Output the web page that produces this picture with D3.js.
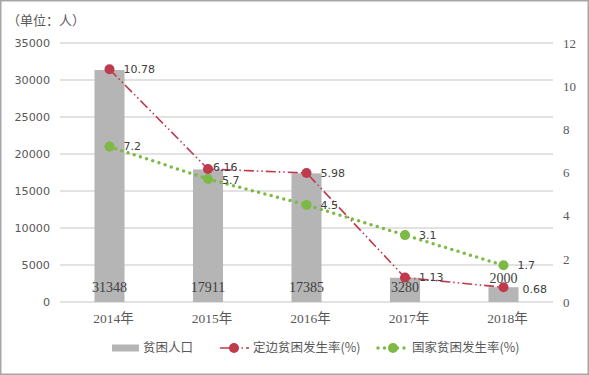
<!DOCTYPE html>
<html>
<head>
<meta charset="utf-8">
<script src="https://cdn.jsdelivr.net/npm/d3@7"></script>
<style>
  body { margin: 0; background: #fff; }
  svg { display: block; }
</style>
</head>
<body>
<div id="chart"></div>
<script>
// data
const years = ['2014年', '2015年', '2016年', '2017年', '2018年'];
const population = [31348, 17911, 17385, 3280, 2000];
const dingbianRate = [10.78, 6.16, 5.98, 1.13, 0.68];
const nationalRate = [7.2, 5.7, 4.5, 3.1, 1.7];
const leftTicks = [0, 5000, 10000, 15000, 20000, 25000, 30000, 35000];
const rightTicks = [0, 2, 4, 6, 8, 10, 12];
const seriesNames = ['贫困人口', '定边贫困发生率(%)', '国家贫困发生率(%)'];

const w = 589, h = 375;
const plotL = 60, plotR = 553, plotT = 43, plotB = 302;
const cjk = '"Noto Sans CJK SC", sans-serif';
const red = '#be3a4c', green = '#7dba45', barColor = '#b5b5b5', txt = '#595959';

const svg = d3.select('#chart').append('svg')
  .attr('width', w).attr('height', h);

// outer frame
svg.append('rect')
  .attr('x', 0.75).attr('y', 0.75).attr('width', w - 1.5).attr('height', h - 1.5)
  .attr('fill', '#fff').attr('stroke', '#a6a6a6').attr('stroke-width', 1.5);

svg.append('text')
  .attr('x', 7).attr('y', 25)
  .attr('font-family', cjk).attr('font-size', 13).attr('fill', txt)
  .text('（单位：人）');

const x = d3.scaleBand().domain(years).range([plotL, plotR]).paddingInner(0.695).paddingOuter(0.35);
const xc = d => x(d) + x.bandwidth() / 2;
const y = d3.scaleLinear().domain([0, 35000]).range([plotB, plotT]);
const y2 = d3.scaleLinear().domain([0, 12]).range([plotB, plotT]);

// gridlines
svg.append('g').selectAll('line').data(leftTicks).enter().append('line')
  .attr('x1', plotL).attr('x2', plotR)
  .attr('y1', d => y(d)).attr('y2', d => y(d))
  .attr('stroke', '#d9d9d9').attr('stroke-width', 1.3);

// left axis
const yAxis = d3.axisLeft(y).tickValues(leftTicks).tickSize(0).tickPadding(10).tickFormat(d3.format('d'));
const gy = svg.append('g').attr('transform', 'translate(' + plotL + ',0)').call(yAxis);
gy.select('.domain').remove();
gy.selectAll('text').attr('font-family', '"DejaVu Sans", sans-serif').attr('font-size', 11.2).attr('fill', txt);

// right axis
const yAxis2 = d3.axisRight(y2).tickValues(rightTicks).tickSize(0).tickPadding(10);
const gy2 = svg.append('g').attr('transform', 'translate(' + plotR + ',0)').call(yAxis2);
gy2.select('.domain').remove();
gy2.selectAll('text').attr('font-family', '"Liberation Serif", serif').attr('font-size', 13).attr('fill', txt);

// bottom axis
const xAxis = d3.axisBottom(x).tickSize(0).tickPadding(11);
const gx = svg.append('g').attr('transform', 'translate(0,' + plotB + ')').call(xAxis);
gx.select('.domain').remove();
gx.selectAll('text').attr('font-family', '"Liberation Serif", ' + cjk).attr('font-size', 13.5)
  .attr('fill', txt).attr('dx', 4);

// bars
svg.append('g').selectAll('rect').data(population).enter().append('rect')
  .attr('x', (d, i) => x(years[i]))
  .attr('width', x.bandwidth())
  .attr('y', d => y(d))
  .attr('height', d => plotB - y(d))
  .attr('fill', barColor);

svg.append('g').selectAll('text').data(population).enter().append('text')
  .attr('x', (d, i) => xc(years[i]))
  .attr('y', d => (plotB - y(d) < 20 ? y(d) - 9 : plotB - 15))
  .attr('dy', '0.35em')
  .attr('text-anchor', 'middle')
  .attr('font-family', '"Liberation Serif", serif').attr('font-size', 14).attr('fill', '#404040')
  .text(d => d);

// lines
const lineFor = vals => d3.line().x((d, i) => xc(years[i])).y(d => y2(d))(vals);
const redDash = '10,3,1.5,3,1.5,3';
const greenDash = '0,6.5';

svg.append('path').attr('d', lineFor(dingbianRate))
  .attr('fill', 'none').attr('stroke', red).attr('stroke-width', 1.6)
  .attr('stroke-dasharray', redDash);
svg.append('path').attr('d', lineFor(nationalRate))
  .attr('fill', 'none').attr('stroke', green).attr('stroke-width', 3.5)
  .attr('stroke-linecap', 'round').attr('stroke-dasharray', greenDash);

// labels sit right of the markers; a few were nudged by hand in the original
function markers(vals, color, nudge) {
  svg.append('g').selectAll('circle').data(vals).enter().append('circle')
    .attr('cx', (d, i) => xc(years[i])).attr('cy', d => y2(d))
    .attr('r', 5).attr('fill', color);
  svg.append('g').selectAll('text').data(vals).enter().append('text')
    .attr('x', (d, i) => xc(years[i]) + (nudge[i] ? nudge[i][0] : 14))
    .attr('y', (d, i) => y2(d) + (nudge[i] ? nudge[i][1] : 0))
    .attr('dy', '0.35em')
    .attr('font-family', '"DejaVu Sans", sans-serif').attr('font-size', 11).attr('fill', '#404040')
    .text(d => d);
}
markers(dingbianRate, red, { 1: [5, -1.5], 4: [19, 2] });
markers(nationalRate, green, { 1: [14, 1] });

// legend
const ly = 348;
const lg = svg.append('g').attr('font-family', cjk).attr('font-size', 12.5).attr('fill', txt);
lg.append('rect').attr('x', 112).attr('y', ly - 3.5).attr('width', 27).attr('height', 7).attr('fill', barColor);
lg.append('text').attr('x', 143).attr('y', ly).attr('dy', '0.35em').text(seriesNames[0]);

lg.append('line').attr('x1', 220).attr('x2', 249).attr('y1', ly).attr('y2', ly)
  .attr('stroke', red).attr('stroke-width', 1.6).attr('stroke-dasharray', '14,3,1.5,3,1.5,3');
lg.append('circle').attr('cx', 234).attr('cy', ly).attr('r', 5).attr('fill', red);
lg.append('text').attr('x', 253).attr('y', ly).attr('dy', '0.35em').text(seriesNames[1]);

lg.append('line').attr('x1', 378).attr('x2', 406).attr('y1', ly).attr('y2', ly)
  .attr('stroke', green).attr('stroke-width', 3.5).attr('stroke-linecap', 'round').attr('stroke-dasharray', greenDash);
lg.append('circle').attr('cx', 393).attr('cy', ly).attr('r', 5).attr('fill', green);
lg.append('text').attr('x', 412).attr('y', ly).attr('dy', '0.35em').text(seriesNames[2]);
</script>
</body>
</html>
